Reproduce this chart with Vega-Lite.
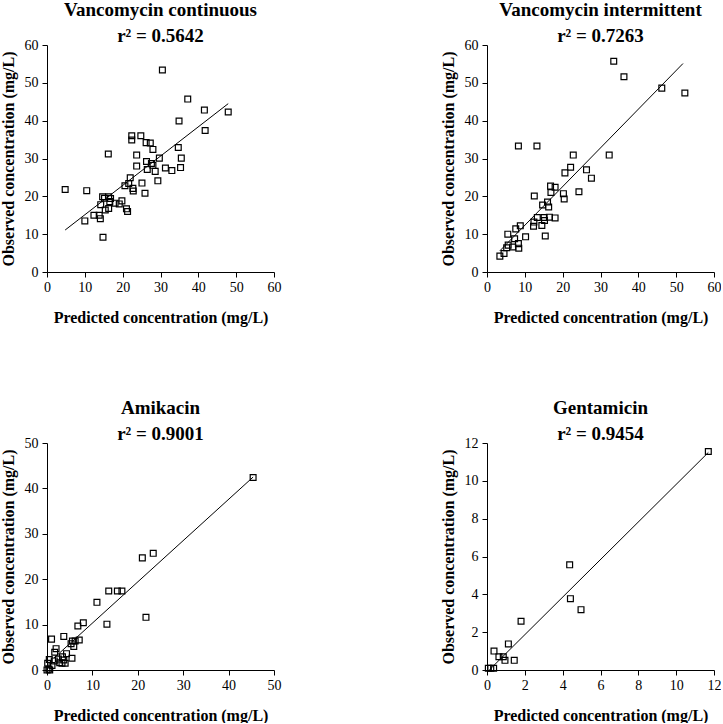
{
  "$schema": "https://vega.github.io/schema/vega-lite/v6.json",
  "padding": {"left": 0, "top": 1, "right": 0, "bottom": 0},
  "background": "white",
  "config": {
    "font": "Liberation Serif",
    "view": {"stroke": null},
    "style": {"guide-label": {"font": "Liberation Serif", "fontSize": 14}, "guide-title": {"font": "Liberation Serif"}},
    "axis": {
      "grid": false, "domainColor": "black", "tickColor": "black", "labelColor": "black", "titleColor": "black",
      "labelFont": "Liberation Serif", "labelFontSize": 14, "titleFont": "Liberation Serif", "titleFontSize": 16, "titleFontWeight": "bold",
      "tickSize": 5, "labelPadding": 3, "domainWidth": 1, "tickWidth": 1, "labelFlush": false, "labelOverlap": false
    },
    "axisX": {"titlePadding": 15},
    "axisY": {"titlePadding": 8, "labelPadding": 4},
    "title": {"font": "Liberation Serif", "fontSize": 19, "fontWeight": "bold", "color": "black", "lineHeight": 26, "offset": -8}
  },
  "datasets": {
    "vc": [
      {"p":4.8,"o":21.8},{"p":10.5,"o":21.5},{"p":10.0,"o":13.5},{"p":12.4,"o":15.0},{"p":13.8,"o":15.0},{"p":14.1,"o":14.1},{"p":14.8,"o":9.2},{"p":14.2,"o":17.8},{"p":14.7,"o":19.9},{"p":15.2,"o":19.5},{"p":15.4,"o":16.4},{"p":16.2,"o":31.2},{"p":16.3,"o":19.9},{"p":16.8,"o":19.4},{"p":16.6,"o":18.6},{"p":16.3,"o":16.8},{"p":18.0,"o":18.2},{"p":19.1,"o":18.0},{"p":19.8,"o":18.8},{"p":20.6,"o":22.8},{"p":21.0,"o":16.7},{"p":21.3,"o":16.0},{"p":21.6,"o":23.4},{"p":22.0,"o":24.9},{"p":22.7,"o":22.1},{"p":22.8,"o":21.4},{"p":22.4,"o":36.0},{"p":22.4,"o":34.9},{"p":23.7,"o":30.9},{"p":23.7,"o":28.0},{"p":24.8,"o":36.0},{"p":25.1,"o":23.5},{"p":25.9,"o":20.8},{"p":26.2,"o":34.2},{"p":26.3,"o":29.2},{"p":26.5,"o":27.1},{"p":27.3,"o":34.1},{"p":27.6,"o":28.7},{"p":28.0,"o":32.4},{"p":28.0,"o":28.2},{"p":28.6,"o":26.6},{"p":29.3,"o":24.1},{"p":29.7,"o":30.1},{"p":30.5,"o":53.4},{"p":31.3,"o":27.5},{"p":33.0,"o":26.8},{"p":34.7,"o":32.9},{"p":34.9,"o":39.9},{"p":35.3,"o":27.6},{"p":35.5,"o":30.1},{"p":37.2,"o":45.7},{"p":41.6,"o":42.8},{"p":41.8,"o":37.4},{"p":47.9,"o":42.3}
    ],
    "vcLine": [{"p":4.8,"o":11.1},{"p":47.9,"o":44.5}],
    "vi": [
      {"p":3.4,"o":4.2},{"p":4.5,"o":4.9},{"p":5.2,"o":6.4},{"p":5.5,"o":10.0},{"p":5.6,"o":7.1},{"p":6.8,"o":6.6},{"p":7.3,"o":8.8},{"p":7.6,"o":11.4},{"p":8.3,"o":33.3},{"p":8.3,"o":7.5},{"p":8.4,"o":6.3},{"p":8.8,"o":12.2},{"p":10.2,"o":9.3},{"p":12.3,"o":12.1},{"p":12.5,"o":20.1},{"p":12.4,"o":13.2},{"p":13.2,"o":33.3},{"p":13.3,"o":14.4},{"p":14.5,"o":12.3},{"p":14.7,"o":17.7},{"p":15.1,"o":14.4},{"p":15.2,"o":13.6},{"p":15.4,"o":9.5},{"p":16.0,"o":18.5},{"p":16.3,"o":17.2},{"p":16.5,"o":14.5},{"p":16.8,"o":22.7},{"p":16.9,"o":21.0},{"p":18.0,"o":22.4},{"p":18.0,"o":14.3},{"p":20.2,"o":20.7},{"p":20.4,"o":19.3},{"p":20.6,"o":26.2},{"p":22.1,"o":27.7},{"p":22.8,"o":30.9},{"p":24.3,"o":21.2},{"p":26.3,"o":27.0},{"p":27.6,"o":24.8},{"p":32.3,"o":30.9},{"p":33.5,"o":55.7},{"p":36.2,"o":51.6},{"p":46.2,"o":48.6},{"p":52.3,"o":47.3}
    ],
    "viLine": [{"p":3.4,"o":5.6},{"p":51.8,"o":55.1}],
    "ami": [
      {"p":45.4,"o":42.4},{"p":21.0,"o":24.7},{"p":23.4,"o":25.7},{"p":13.6,"o":17.4},{"p":15.5,"o":17.4},{"p":16.5,"o":17.4},{"p":11.0,"o":14.9},{"p":21.8,"o":11.6},{"p":13.2,"o":10.1},{"p":8.0,"o":10.4},{"p":6.8,"o":9.7},{"p":1.0,"o":6.8},{"p":3.7,"o":7.4},{"p":7.1,"o":6.6},{"p":5.6,"o":6.4},{"p":6.2,"o":6.4},{"p":5.9,"o":5.2},{"p":5.3,"o":5.8},{"p":1.7,"o":3.9},{"p":2.0,"o":4.7},{"p":4.3,"o":3.6},{"p":3.4,"o":2.9},{"p":5.5,"o":2.6},{"p":3.7,"o":2.2},{"p":4.0,"o":1.5},{"p":2.8,"o":1.6},{"p":3.3,"o":1.5},{"p":2.5,"o":2.4},{"p":1.6,"o":2.0},{"p":0.5,"o":2.3},{"p":0.15,"o":1.5},{"p":1.1,"o":1.0},{"p":0.4,"o":0.2},{"p":0.0,"o":0.0},{"p":0.6,"o":0.0}
    ],
    "amiLine": [{"p":1.5,"o":2.6},{"p":45.4,"o":42.5}],
    "gen": [
      {"p":4.37,"o":5.56},{"p":4.41,"o":3.77},{"p":4.97,"o":3.19},{"p":1.8,"o":2.58},{"p":1.13,"o":1.38},{"p":0.37,"o":1.0},{"p":0.63,"o":0.7},{"p":0.86,"o":0.7},{"p":0.95,"o":0.51},{"p":1.44,"o":0.51},{"p":0.07,"o":0.09},{"p":0.35,"o":0.09},{"p":0.2,"o":0.09},{"p":11.7,"o":11.55}
    ],
    "genLine": [{"p":0.12,"o":0.0},{"p":11.7,"o":11.5}]
  },
  "columns": 2,
  "spacing": {"row": 171, "column": 213},
  "bounds": "flush",
  "concat": [
    {
      "title": {"text": ["Vancomycin continuous", "r² = 0.5642"]},
      "width": 227, "height": 227,
      "encoding": {
        "x": {"field": "p", "type": "quantitative", "scale": {"domain": [0, 60], "nice": false}, "axis": {"title": "Predicted concentration (mg/L)", "values": [0,10,20,30,40,50,60], "labelFont": "Liberation Serif"}},
        "y": {"field": "o", "type": "quantitative", "scale": {"domain": [0, 60], "nice": false}, "axis": {"title": "Observed concentration (mg/L)", "values": [0,10,20,30,40,50,60], "labelFont": "Liberation Serif"}}
      },
      "layer": [
        {"data": {"name": "vc"}, "mark": {"type": "point", "shape": "square", "filled": false, "stroke": "black", "strokeWidth": 1.2, "size": 34, "opacity": 1}, "encoding": {}},
        {"data": {"name": "vcLine"}, "mark": {"type": "line", "color": "black", "strokeWidth": 1}, "encoding": {}}
      ]
    },
    {
      "title": {"text": ["Vancomycin intermittent", "r² = 0.7263"]},
      "width": 227, "height": 227,
      "encoding": {
        "x": {"field": "p", "type": "quantitative", "scale": {"domain": [0, 60], "nice": false}, "axis": {"title": "Predicted concentration (mg/L)", "values": [0,10,20,30,40,50,60], "labelFont": "Liberation Serif"}},
        "y": {"field": "o", "type": "quantitative", "scale": {"domain": [0, 60], "nice": false}, "axis": {"title": "Observed concentration (mg/L)", "values": [0,10,20,30,40,50,60], "labelFont": "Liberation Serif"}}
      },
      "layer": [
        {"data": {"name": "vi"}, "mark": {"type": "point", "shape": "square", "filled": false, "stroke": "black", "strokeWidth": 1.2, "size": 34, "opacity": 1}, "encoding": {}},
        {"data": {"name": "viLine"}, "mark": {"type": "line", "color": "black", "strokeWidth": 1}, "encoding": {}}
      ]
    },
    {
      "title": {"text": ["Amikacin", "r² = 0.9001"]},
      "width": 227, "height": 227,
      "encoding": {
        "x": {"field": "p", "type": "quantitative", "scale": {"domain": [0, 50], "nice": false}, "axis": {"title": "Predicted concentration (mg/L)", "values": [0,10,20,30,40,50], "labelFont": "Liberation Serif"}},
        "y": {"field": "o", "type": "quantitative", "scale": {"domain": [0, 50], "nice": false}, "axis": {"title": "Observed concentration (mg/L)", "values": [0,10,20,30,40,50], "labelFont": "Liberation Serif"}}
      },
      "layer": [
        {"data": {"name": "ami"}, "mark": {"type": "point", "shape": "square", "filled": false, "stroke": "black", "strokeWidth": 1.2, "size": 34, "opacity": 1}, "encoding": {}},
        {"data": {"name": "amiLine"}, "mark": {"type": "line", "color": "black", "strokeWidth": 1}, "encoding": {}}
      ]
    },
    {
      "title": {"text": ["Gentamicin", "r² = 0.9454"]},
      "width": 227, "height": 227,
      "encoding": {
        "x": {"field": "p", "type": "quantitative", "scale": {"domain": [0, 12], "nice": false}, "axis": {"title": "Predicted concentration (mg/L)", "values": [0,2,4,6,8,10,12], "labelFont": "Liberation Serif"}},
        "y": {"field": "o", "type": "quantitative", "scale": {"domain": [0, 12], "nice": false}, "axis": {"title": "Observed concentration (mg/L)", "values": [0,2,4,6,8,10,12], "labelFont": "Liberation Serif"}}
      },
      "layer": [
        {"data": {"name": "gen"}, "mark": {"type": "point", "shape": "square", "filled": false, "stroke": "black", "strokeWidth": 1.2, "size": 34, "opacity": 1}, "encoding": {}},
        {"data": {"name": "genLine"}, "mark": {"type": "line", "color": "black", "strokeWidth": 1}, "encoding": {}}
      ]
    }
  ]
}
